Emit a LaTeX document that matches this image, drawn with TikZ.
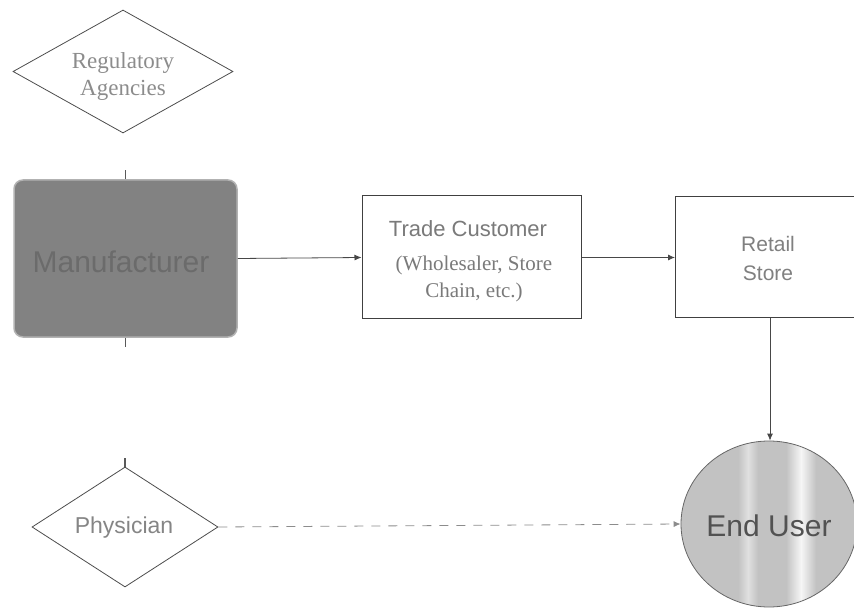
\documentclass[tikz,border=0pt]{standalone}
\usepackage{fontspec}
\setmainfont{Liberation Serif}
\setsansfont{Liberation Sans}
\usetikzlibrary{shapes.geometric,arrows.meta}
\definecolor{boxgray}{HTML}{828282}
\definecolor{usergray}{HTML}{C2C2C2}
\begin{document}
\begin{tikzpicture}[x=1pt,y=-1pt,
  line/.style={draw=black!72,line width=0.8pt},
  flow/.style={line,-{Latex[length=7pt,width=6pt]}},
  decision/.style={diamond,draw=black!70,line width=0.8pt,inner sep=0pt},
  procbox/.style={rectangle,draw=black!75,line width=1pt,fill=white},
  tick/.style={draw=black!65,line width=1.2pt},
  lbl/.style={inner sep=0pt,align=center}]
\useasboundingbox (0,0) rectangle (854,612);
\begin{scope}
\clip (0,0) rectangle (854,612);

% decision shapes (outline only, text set on top)
\node[decision,minimum width=220pt,minimum height=123pt] (reg) at (123,71.5) {};
\node[lbl,font=\rmfamily\fontsize{23}{27}\selectfont,text=black!45]
      (regtext) at (123,77) {Regulatory\\Agencies};
\node[decision,minimum width=186pt,minimum height=120pt] (phys) at (125,527) {};
\node[lbl,font=\sffamily\fontsize{23}{25}\selectfont,text=black!48]
      (phystext) at (124,528) {Physician};
\draw[tick] (phys.north) -- ++(0,-9);

% manufacturer block
\node[rectangle,rounded corners=9pt,draw=black!30,line width=1.5pt,
      fill=boxgray,minimum width=223pt,minimum height=157pt]
      (man) at (125.5,258.5) {};
\node[lbl,font=\sffamily\fontsize{30}{32}\selectfont,text=black!58]
      (mantext) at (121,262) {Manufacturer};
\draw[tick] (man.north) -- ++(0,-9);
\draw[tick] (man.south) -- ++(0,9);

% process boxes
\node[procbox,minimum width=219pt,minimum height=123pt] (trade) at (471.5,257.5) {};
\node[lbl,font=\sffamily\fontsize{22}{24}\selectfont,text=black!52]
      (tradetop) at (468,229) {Trade Customer};
\node[lbl,font=\rmfamily\fontsize{21}{27}\selectfont,text=black!52]
      (tradebot) at (474,279) {(Wholesaler, Store\\Chain, etc.)};
\node[procbox,minimum width=200pt,minimum height=121pt,anchor=west]
      (retail) at (675,257.5) {};
\node[lbl,font=\sffamily\fontsize{21}{29}\selectfont,text=black!50]
      (retailtext) at (768,258) {Retail\\Store};

% end user: grey disc with a soft light band
\begin{scope}
\clip (769,524) ellipse [x radius=88pt,y radius=83pt];
\fill[usergray] (681,441) rectangle (857,607);
\shade[left color=usergray,right color=usergray,middle color=white!85!usergray] (786,441) rectangle (816,607);
\shade[left color=usergray,right color=usergray,middle color=white!50!usergray] (738,441) rectangle (758,607);
\end{scope}
\node[ellipse,draw=black!60,line width=0.8pt,minimum width=176pt,minimum height=166pt,inner sep=0pt]
      (user) at (769,524) {};
\node[lbl,font=\sffamily\fontsize{30}{32}\selectfont,text=black!68]
      (usertext) at (769,526) {End User};

% connectors
\draw[flow] (man.east) -- (trade.west);
\draw[flow] (trade.east) -- (retail.west |- trade.east);
\coordinate (retailfoot) at (770,318);
\draw[flow] (retailfoot) -- (user.north -| retailfoot);
\draw[flow,dash pattern=on 9pt off 8pt,draw=black!45] (phys.east) -- (user.west);
\end{scope}
\end{tikzpicture}
\end{document}
